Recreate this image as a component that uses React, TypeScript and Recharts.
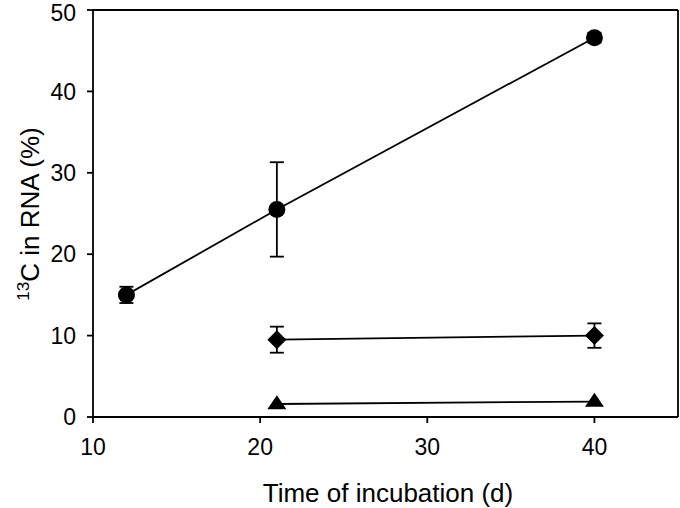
import React from 'react';
import { ComposedChart, Scatter, XAxis, YAxis, ErrorBar, ReferenceLine } from 'recharts';

const xTicks = [10, 20, 30, 40];
const yTicks = [0, 10, 20, 30, 40, 50];

const circleX = [12, 21, 40];
const circleY = [15.0, 25.5, 46.6];
const circleErr = [1.0, 5.8, 0.6];

const diamondX = [21, 40];
const diamondY = [9.5, 10.0];
const diamondErr = [1.6, 1.5];

const triangleX = [21, 40];
const triangleY = [1.6, 1.9];

const circleData = circleX.map((x, i) => ({ x, y: circleY[i], err: circleErr[i] }));
const diamondData = diamondX.map((x, i) => ({ x, y: diamondY[i], err: diamondErr[i] }));
const triangleData = triangleX.map((x, i) => ({ x, y: triangleY[i] }));

const FONT = '"Liberation Sans", Arial, sans-serif';

const CircleShape = (p: any) => <circle cx={p.cx} cy={p.cy} r={8.5} fill="#000" />;
const DiamondShape = (p: any) => {
  const s = 9.5;
  return <path d={`M${p.cx},${p.cy - s}L${p.cx + s},${p.cy}L${p.cx},${p.cy + s}L${p.cx - s},${p.cy}Z`} fill="#000" />;
};
const TriangleShape = (p: any) => {
  const w = 9.5, h = 14;
  return <path d={`M${p.cx},${p.cy - h * 0.62}L${p.cx + w},${p.cy + h * 0.38}L${p.cx - w},${p.cy + h * 0.38}Z`} fill="#000" />;
};

const YLabel = () => (
  <text x={39} y={214} transform="rotate(-90 39 214)" textAnchor="middle" fontFamily={FONT} fontSize={26} fill="#000">
    <tspan fontSize={17} dy={-10}>13</tspan>
    <tspan dy={10}>C in RNA (%)</tspan>
  </text>
);

const XLabel = () => (
  <text x={388} y={502} textAnchor="middle" fontFamily={FONT} fontSize={26} fill="#000">
    Time of incubation (d)
  </text>
);

export default function App() {
  return (
    <div style={{ position: 'absolute', left: 0, top: 0, width: 680, height: 508, background: '#fff' }}>
      <ComposedChart width={680} height={508} margin={{ top: 10, right: 2, left: 0, bottom: 0 }}>
        <XAxis
          type="number"
          dataKey="x"
          domain={[10, 45]}
          ticks={xTicks}
          allowDataOverflow
          height={91}
          stroke="#000"
          strokeWidth={1.8}
          tickSize={6}
          tickMargin={16}
          tick={{ fill: '#000', fontSize: 23, fontFamily: FONT }}
          label={<XLabel />}
        />
        <YAxis
          type="number"
          dataKey="y"
          domain={[0, 50]}
          ticks={yTicks}
          allowDataOverflow
          width={93}
          stroke="#000"
          strokeWidth={1.8}
          tickSize={6}
          tickMargin={11}
          tick={{ fill: '#000', fontSize: 23, fontFamily: FONT }}
          label={<YLabel />}
        />
        <ReferenceLine y={50} stroke="#000" strokeWidth={1.8} />
        <ReferenceLine x={45} stroke="#000" strokeWidth={1.8} />
        <Scatter data={circleData} line={{ stroke: '#000', strokeWidth: 1.8 }} shape={CircleShape} isAnimationActive={false}>
          <ErrorBar dataKey="err" direction="y" width={7} stroke="#000" strokeWidth={1.8} />
        </Scatter>
        <Scatter data={diamondData} line={{ stroke: '#000', strokeWidth: 1.8 }} shape={DiamondShape} isAnimationActive={false}>
          <ErrorBar dataKey="err" direction="y" width={7} stroke="#000" strokeWidth={1.8} />
        </Scatter>
        <Scatter data={triangleData} line={{ stroke: '#000', strokeWidth: 1.8 }} shape={TriangleShape} isAnimationActive={false} />
      </ComposedChart>
    </div>
  );
}
